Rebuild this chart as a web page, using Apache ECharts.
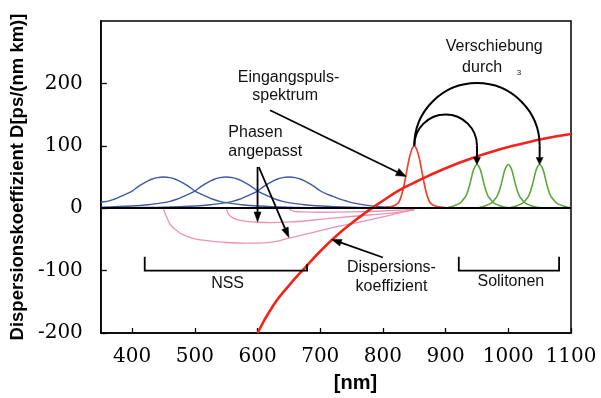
<!DOCTYPE html>
<html>
<head>
<meta charset="utf-8">
<script src="https://cdn.jsdelivr.net/npm/echarts@6/dist/echarts.min.js"></script>
<style>
  html, body { margin: 0; padding: 0; background: #fff; }
  #chart { width: 601px; height: 398px; }
</style>
</head>
<body>
<div id="chart"></div>
<script>
// Axis ticks
const xTicks = [400, 500, 600, 700, 800, 900, 1000, 1100];
const yTicks = [-200, -100, 0, 100, 200];

// Pump spectra in the normal-dispersion region (blue), [wavelength nm, amplitude]
const blue450 = [[350,10],[360,11],[370,14],[380,18],[390,22.5],[400,27.5],[410,35],[420,41],[430,46],[440,49],[450,50],[460,49],[470,46],[480,41],[490,35],[500,27.5],[510,22.5],[520,18],[530,14],[540,11],[550,9],[575,5.5],[600,3.5],[650,1.5],[700,0.5],[750,0]];
const blue550 = [[350,1.5],[400,3.5],[425,5.5],[450,9],[460,11],[470,14],[480,18],[490,22.5],[500,27.5],[510,35],[520,41],[530,46],[540,49],[550,50],[560,49],[570,46],[580,41],[590,35],[600,27.5],[610,22.5],[620,18],[630,14],[640,11],[650,9],[675,5.5],[700,3.5],[750,1.5],[800,0.5],[850,0]];
const blue650 = [[350,0.5],[400,1],[450,1.5],[500,3.5],[525,5.5],[550,9],[560,11],[570,14],[580,18],[590,22.5],[600,27.5],[610,35],[620,41],[630,46],[640,49],[650,50],[660,49],[670,46],[680,41],[690,35],[700,28],[710,23],[720,19],[730,15],[740,12],[750,9],[775,4.5],[800,2],[850,0.5],[900,0]];

// Phase-matched curves (pink)
const pinkA = [[450,0],[452,-7],[455,-14],[460,-25],[465,-31],[470,-35],[480,-42],[490,-46],[500,-49],[520,-52],[550,-55],[580,-56],[600,-56],[625,-54],[650,-48],[675,-42],[700,-36],[725,-30],[750,-25],[775,-19.5],[800,-14],[825,-8],[850,-2]];
const pinkB = [[550,0],[552,-6],[555,-11],[560,-15],[570,-19],[585,-21.5],[600,-22.5],[625,-23],[650,-22],[675,-20.5],[700,-18],[730,-15],[760,-12.5],[790,-10],[820,-7],[850,-3]];
const pinkC = [[650,0],[653,-3],[658,-5],[670,-6],[700,-6.5],[750,-6],[800,-4.5],[850,-2]];

// Dispersion coefficient D
const dispersion = [[600,-200],[625,-156],[650,-124],[675,-96],[700,-69],[725,-45],[750,-24],[775,-5],[800,12],[825,28],[850,41],[875,53],[900,64],[925,74],[950,83],[975,91],[1000,98],[1025,104],[1050,110],[1075,115],[1100,119]];

// Input pulse spectrum (red)
const inputPulse = [[790,0],[805,1.5],[815,3],[820,5],[824,8],[827,13],[830,22],[833,34],[836,49],[839,65],[842,80],[846,94],[850,100],[854,94],[858,80],[861,65],[864,49],[867,34],[870,22],[873,13],[876,8],[880,5],[885,3],[895,1.5],[910,0]];

// Soliton spectra (green)
const soliton950 = [[890,0],[900,0.5],[905,1.5],[915,4.5],[920,6.5],[925,10],[929,15],[932,19],[935,26],[938,36],[941,48],[944,60],[947,67],[950,70],[953,67],[956,60],[959,48],[962,36],[965,26],[968,19],[971,15],[975,10],[980,6.5],[985,4.5],[995,1.5],[1005,0.5],[1020,0]];
const soliton1000 = [[940,0],[950,0.5],[955,1.5],[965,4.5],[970,6.5],[975,10],[979,15],[982,19],[985,26],[988,36],[991,48],[994,60],[997,67],[1000,70],[1003,67],[1006,60],[1009,48],[1012,36],[1015,26],[1018,19],[1021,15],[1025,10],[1030,6.5],[1035,4.5],[1045,1.5],[1055,0.5],[1070,0]];
const soliton1050 = [[990,0],[1000,0.5],[1005,1.5],[1015,4.5],[1020,6.5],[1025,10],[1029,15],[1032,19],[1035,26],[1038,36],[1041,48],[1044,60],[1047,67],[1050,70],[1053,67],[1056,60],[1059,48],[1062,36],[1065,26],[1068,19],[1071,15],[1075,10],[1080,6.5],[1085,4.5],[1095,1.5],[1100,1]];

const chart = echarts.init(document.getElementById('chart'), null, { renderer: 'canvas' });

const TICK_FONT = 'DejaVu Serif';
const NOTE_FONT = 'Liberation Sans';

function curve(data, color, width, z, smooth) {
  return {
    type: 'line', data: data, showSymbol: false, smooth: smooth === undefined ? 0.35 : smooth,
    lineStyle: { color: color, width: width }, silent: true, z: z || 2,
    clip: true, animation: false
  };
}

const series = [
  curve(blue450, '#3d5aa6', 1.4),
  curve(blue550, '#3d5aa6', 1.4),
  curve(blue650, '#3d5aa6', 1.4),
  curve(pinkA, '#ec93b2', 1.3),
  curve(pinkB, '#ec93b2', 1.3),
  curve(pinkC, '#ec93b2', 1.3),
  curve(soliton950, '#5aa83a', 1.6),
  curve(soliton1000, '#5aa83a', 1.6),
  curve(soliton1050, '#5aa83a', 1.6),
  curve(inputPulse, '#f0402e', 1.7),
  curve(dispersion, '#f2231a', 2.6, 4, 0.5)
];
// zero line
series[0].markLine = {
  silent: true, symbol: 'none', animation: false,
  label: { show: false },
  lineStyle: { color: '#000', width: 2, type: 'solid' },
  data: [{ yAxis: 0 }]
};

chart.setOption({
  animation: false,
  backgroundColor: '#fff',
  grid: { left: 98, right: 30, top: 21, bottom: 63.5, show: true, borderColor: '#000', borderWidth: 1.5 },
  xAxis: {
    type: 'value', min: 350, max: 1100,
    name: '[nm]', nameLocation: 'middle', nameGap: 40,
    nameTextStyle: { fontFamily: NOTE_FONT, fontWeight: 'bold', fontSize: 20, color: '#000', padding: [0, 0, 0, 39] },
    axisLine: { show: true, onZero: false, lineStyle: { color: '#000', width: 1.5 } },
    axisTick: { show: true, inside: true, length: 5, customValues: xTicks, lineStyle: { color: '#000', width: 1.3 } },
    axisLabel: { customValues: xTicks, formatter: v => String(v), fontFamily: TICK_FONT, fontSize: 20, color: '#000', margin: 14 },
    splitLine: { show: false }
  },
  yAxis: {
    type: 'value', min: -200, max: 300, interval: 100,
    name: 'Dispersionskoeffizient D[ps/(nm km)]', nameLocation: 'middle', nameRotate: 90, nameGap: 64,
    nameTextStyle: { fontFamily: NOTE_FONT, fontWeight: 'bold', fontSize: 18.5, color: '#000' },
    axisLine: { show: true, lineStyle: { color: '#000', width: 1.5 } },
    axisTick: { show: true, inside: true, length: 6, customValues: yTicks, lineStyle: { color: '#000', width: 1.3 } },
    axisLabel: { customValues: yTicks, formatter: v => String(v), fontFamily: TICK_FONT, fontSize: 20, color: '#000', margin: 18 },
    splitLine: { show: false }
  },
  series: series
});

// ---- annotations, placed in data coordinates ----
const P = v => chart.convertToPixel({ gridIndex: 0 }, v);

function arrow(from, to, len, half, width) {
  const a = P(from), b = P(to);
  const dx = b[0] - a[0], dy = b[1] - a[1], L = Math.hypot(dx, dy);
  const ux = dx / L, uy = dy / L, nx = -uy, ny = ux;
  const base = [b[0] - ux * len, b[1] - uy * len];
  return [
    { type: 'line', silent: true, z: 100, shape: { x1: a[0], y1: a[1], x2: base[0], y2: base[1] },
      style: { stroke: '#000', lineWidth: width } },
    { type: 'polygon', silent: true, z: 100,
      shape: { points: [b, [base[0] + nx * half, base[1] + ny * half], [base[0] - nx * half, base[1] - ny * half]] },
      style: { fill: '#000', stroke: '#000', lineWidth: 0.5 } }
  ];
}

function shiftArc(fromPeak, toTop, toTip) {
  const a = P(fromPeak), b = P(toTop);
  const cx = (a[0] + b[0]) / 2, cy = (a[1] + b[1]) / 2, r = Math.abs(b[0] - a[0]) / 2;
  return [
    { type: 'arc', silent: true, z: 100,
      shape: { cx: cx, cy: cy, r: r, startAngle: Math.PI, endAngle: 2 * Math.PI, clockwise: true },
      style: { stroke: '#000', fill: null, lineWidth: 2 } }
  ].concat(arrow(toTop, toTip, 7, 3.5, 2));
}

function bracket(x0, x1, yBottom, yLeftTop, yRightTop) {
  const pts = [P([x0, yLeftTop]), P([x0, yBottom]), P([x1, yBottom]), P([x1, yRightTop])];
  return { type: 'polyline', silent: true, z: 100, shape: { points: pts },
    style: { stroke: '#000', fill: null, lineWidth: 1.8 } };
}

function note(text, at, align, size) {
  const p = P(at);
  return { type: 'text', silent: true, z: 101, x: p[0], y: p[1],
    style: { text: text, fill: '#111', font: (size || 16) + 'px "' + NOTE_FONT + '"',
      align: align, textAlign: align, verticalAlign: 'middle', textVerticalAlign: 'middle' } };
}

const graphics = []
  .concat(shiftArc([850, 100], [950, 100], [950, 70]))
  .concat(shiftArc([850, 100], [1050, 100], [1050, 70]))
  .concat(arrow([620, 157], [837, 51], 10, 4, 1.8))
  .concat(arrow([600, 66], [600, -22], 10, 3.5, 1.8))
  .concat(arrow([602, 66], [650, -47], 10, 3.5, 1.8))
  .concat(arrow([800, -79], [718, -50], 10, 3.5, 1.8))
  .concat([
    bracket(420, 679, -100, -78, -90),
    bracket(921, 1081, -100, -78, -78),
    note('Verschiebung', [977.6, 259.4], 'center'),
    note('durch', [926.3, 226], 'left'),
    note('3', [1017, 216.4], 'center', 8),
    note('Eingangspuls-', [649.4, 208.9], 'center'),
    note('spektrum', [644, 180.2], 'center'),
    note('Phasen', [553.4, 120.8], 'left'),
    note('angepasst', [553.4, 90.5], 'left'),
    note('Dispersions-', [813.6, -94.8], 'center'),
    note('koeffizient', [813.6, -125.7], 'center'),
    note('NSS', [552.2, -121.4], 'center'),
    note('Solitonen', [1004, -117.1], 'center')
  ]);

chart.setOption({ graphic: { elements: graphics } });
</script>
</body>
</html>
